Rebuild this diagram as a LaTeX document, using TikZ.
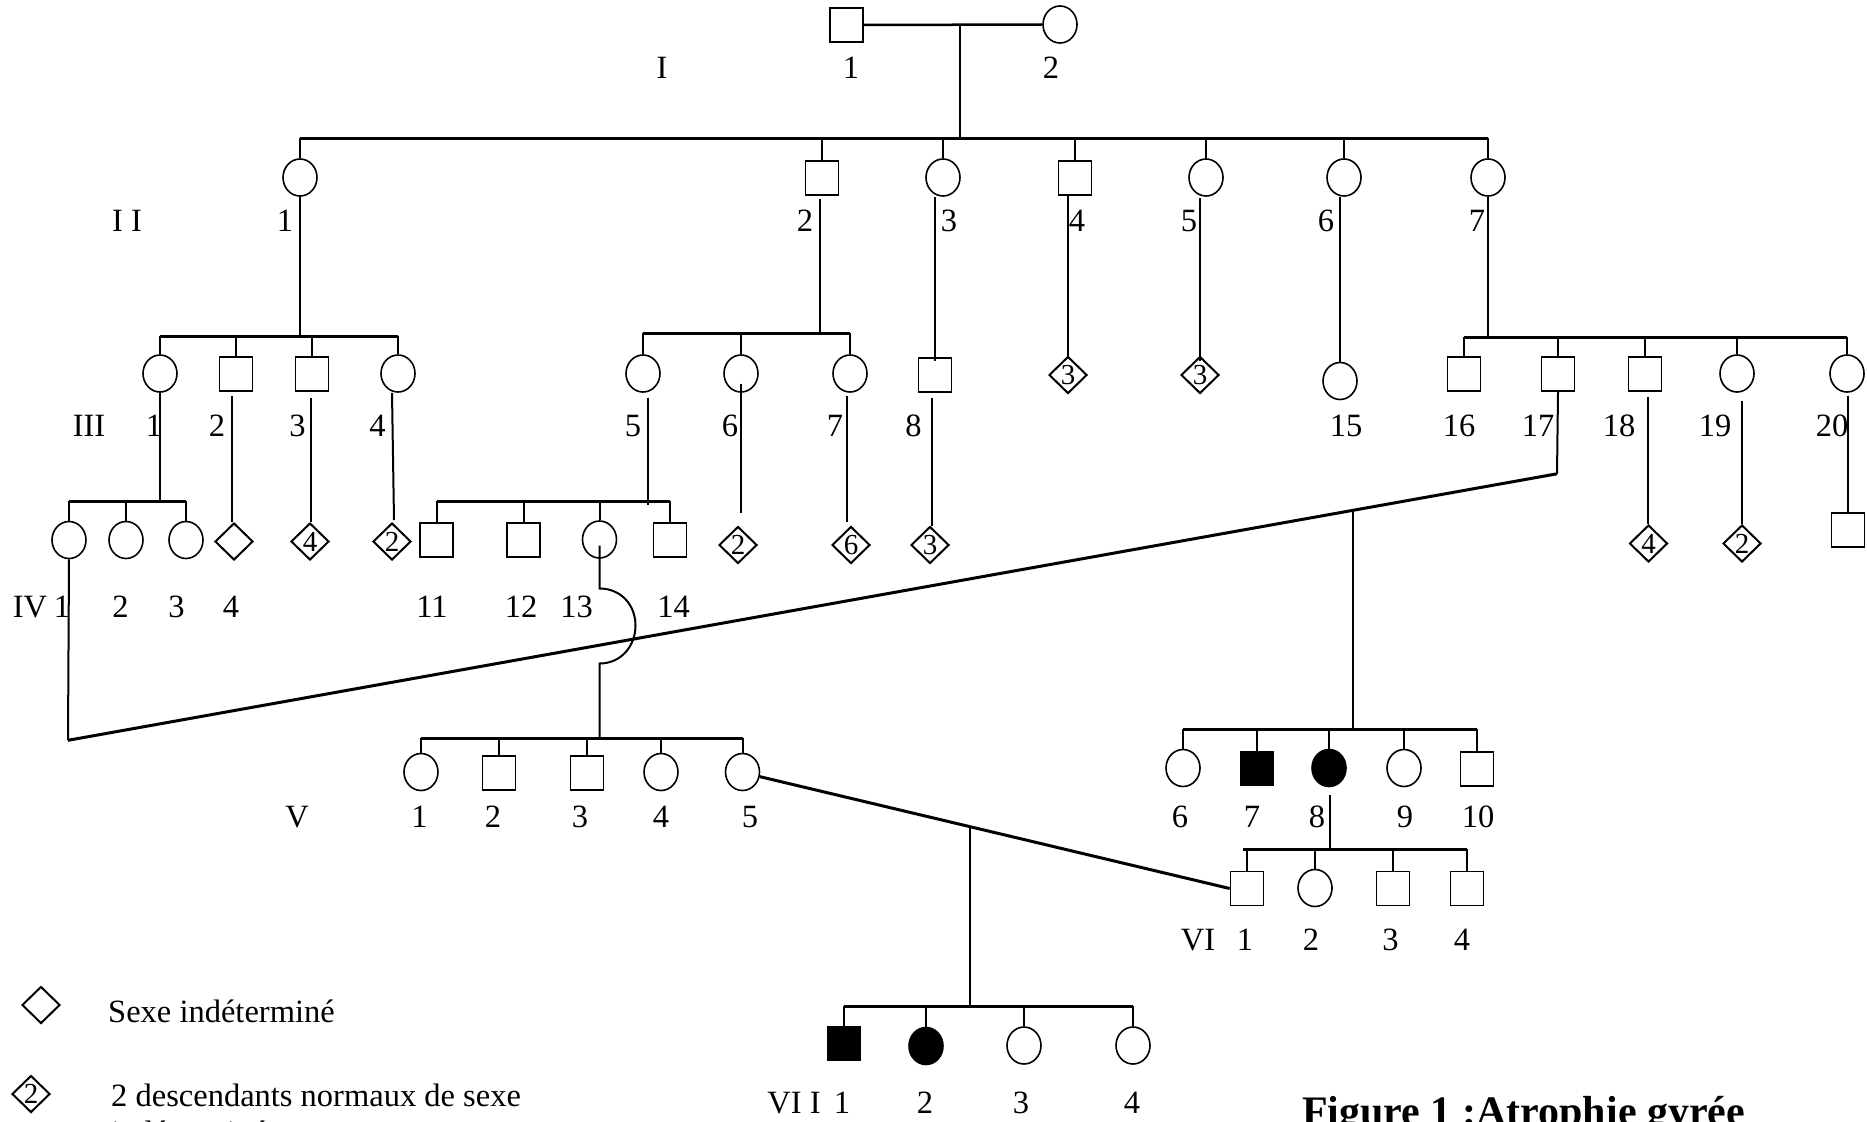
\documentclass[tikz,border=0pt]{standalone}
\usepackage{fontspec}
\setmainfont{Liberation Serif}
\usetikzlibrary{shapes.geometric,calc}
\tikzset{
  sq/.style={draw, line width=1.6pt, rectangle, minimum width=33pt, minimum height=34pt, inner sep=0pt},
  ci/.style={draw, line width=1.6pt, ellipse, minimum width=34pt, minimum height=37pt, inner sep=0pt},
  dm/.style={draw, line width=2pt, diamond, minimum width=38pt, minimum height=37pt, inner sep=0pt, font=\fontsize{29}{29}\selectfont},
  aff/.style={fill=black},
  vl/.style={line width=2pt},
  sl/.style={line width=3pt},
  lbl/.style={anchor=base, inner sep=0pt, font=\fontsize{32.5}{37}\selectfont},
  txt/.style={anchor=base west, inner sep=0pt, font=\fontsize{32.5}{37}\selectfont},
}
\begin{document}
\begin{tikzpicture}[x=1pt,y=-1pt]
\useasboundingbox (0,0) rectangle (1867,1121);
\fill[white] (0,0) rectangle (1867,1121);
\clip (0,0) rectangle (1867,1121);

% ---------- Generation I
\node[sq] (I1) at (846.5,25) {};
\node[ci] (I2) at (1060,24.5) {};
% ---------- Generation II
\node[ci] (II1) at (300,177.5) {};
\node[sq] (II2) at (822,178) {};
\node[ci] (II3) at (943,177.5) {};
\node[sq] (II4) at (1075,178) {};
\node[ci] (II5) at (1206,177.5) {};
\node[ci] (II6) at (1344,177.5) {};
\node[ci] (II7) at (1488,177.5) {};
% ---------- Generation III
\node[ci] (III1) at (160,373.5) {};
\node[sq] (III2) at (236,374) {};
\node[sq] (III3) at (312,374) {};
\node[ci] (III4) at (398,373.5) {};
\node[ci] (III5) at (643,373.5) {};
\node[ci] (III6) at (741,373.5) {};
\node[ci] (III7) at (850,373.5) {};
\node[sq] (III8) at (935,375) {};
\node[dm] (D3a) at (1068,375) {3};
\node[dm] (D3b) at (1200,375) {3};
\node[ci] (III15) at (1340,381) {};
\node[sq] (III16) at (1464,374) {};
\node[sq] (III17) at (1558,374) {};
\node[sq] (III18) at (1645,374) {};
\node[ci] (III19) at (1737,373.5) {};
\node[ci] (III20) at (1847,373.5) {};
% ---------- Generation IV
\node[ci] (IV1) at (69,540) {};
\node[ci] (IV2) at (126,540) {};
\node[ci] (IV3) at (186,540) {};
\node[dm] (IV4) at (234,541.5) {};
\node[dm] (D4a) at (310,541.5) {4};
\node[dm] (D2a) at (392,541.5) {2};
\node[sq] (IV11) at (436.5,540) {};
\node[sq] (IV12) at (523.5,540) {};
\node[ci] (IV13) at (599.5,539.5) {};
\node[sq] (IV14) at (670,540) {};
\node[dm] (D2b) at (738,545) {2};
\node[dm] (D6) at (851,545) {6};
\node[dm] (D3c) at (930,545) {3};
\node[dm] (D4b) at (1648.5,543.5) {4};
\node[dm] (D2c) at (1742,543.5) {2};
\node[sq] (IV20) at (1848,530) {};
% ---------- Generation V
\node[ci] (V1) at (421,772) {};
\node[sq] (V2) at (499,773) {};
\node[sq] (V3) at (587,773) {};
\node[ci] (V4) at (661,772) {};
\node[ci] (V5) at (742.5,772) {};
\node[ci] (V6) at (1183,768) {};
\node[sq,aff] (V7) at (1257,768.5) {};
\node[ci,aff] (V8) at (1329,768) {};
\node[ci] (V9) at (1404,768) {};
\node[sq] (V10) at (1477,769) {};
% ---------- Generation VI
\node[sq] (VI1) at (1247,888.5) {};
\node[ci] (VI2) at (1315,888) {};
\node[sq] (VI3) at (1393,888.5) {};
\node[sq] (VI4) at (1467,888.5) {};
% ---------- Generation VII
\node[sq,aff] (VII1) at (844,1043.5) {};
\node[ci,aff] (VII2) at (926,1046) {};
\node[ci] (VII3) at (1024,1045.5) {};
\node[ci] (VII4) at (1133,1045.5) {};
% ---------- Legend
\node[dm] (L1) at (41,1005) {};
\node[dm] (L2) at (31,1094) {2};
\node[txt] (T1) at (108,1022) {Sexe indéterminé};
\node[txt] (T2) at (111,1106) {2 descendants normaux de sexe};
\node[txt] (T3) at (111,1143) {indéterminé};
\node[anchor=base west, inner sep=0pt, font=\bfseries\fontsize{42}{46}\selectfont] (cap) at (1302,1125) {Figure 1 :Atrophie gyrée};

% ---------- sibship levels
\coordinate (sII) at (0,138);
\coordinate (sIIIa) at (0,336);
\coordinate (sIIIb) at (0,333);
\coordinate (sIIIc) at (0,337);
\coordinate (sIVa) at (0,501);
\coordinate (sIVb) at (0,501);
\coordinate (sVa) at (0,738);
\coordinate (sVb) at (0,729);
\coordinate (sVI) at (0,849);
\coordinate (sVII) at (0,1006);

% ---------- I
\draw[line width=2.5pt] (I1.east) -- (I2.west);
\coordinate (mI) at ($(I1.east)!0.539!(I2.west)$);
\draw[vl] (mI) -- (mI |- sII);
\draw[sl] (II1.north |- sII) -- (II7.north |- sII);
\foreach \n in {II1,II2,II3,II4,II5,II6,II7} \draw[vl] (\n.north) -- (\n.north |- sII);

% ---------- II descents
\draw[vl] (II1.south) -- (II1.south |- sIIIa);
\draw[sl] (III1.north |- sIIIa) -- (III4.north |- sIIIa);
\foreach \n in {III1,III2,III3,III4} \draw[vl] (\n.north) -- (\n.north |- sIIIa);
\draw[vl] ($(II2.south)+(-2,3)$) -- ($(II2.south |- sIIIb)+(-2,0)$);
\draw[sl] (III5.north |- sIIIb) -- (III7.north |- sIIIb);
\foreach \n in {III5,III6,III7} \draw[vl] (\n.north) -- (\n.north |- sIIIb);
\draw[vl] (III8.north |- II3.south) -- ($(III8.north)+(0,4)$);
\draw[vl] (D3a.north |- II4.south) -- (D3a.north);
\draw[vl] ($(D3b.north |- II5.south)+(0,1)$) -- ($(D3b.north)+(0,5)$);
\draw[vl] (III15.north |- II6.south) -- (III15.north);
\draw[vl] (II7.south) -- (II7.south |- sIIIc);
\draw[sl] (III16.north |- sIIIc) -- (III20.north |- sIIIc);
\foreach \n in {III16,III17,III18,III19,III20} \draw[vl] (\n.north) -- (\n.north |- sIIIc);

% ---------- III descents
\draw[vl] (III1.south) -- (III1.south |- sIVa);
\draw[sl] (IV1.north |- sIVa) -- (IV3.north |- sIVa);
\foreach \n in {IV1,IV2,IV3} \draw[vl] (\n.north) -- (\n.north |- sIVa);
\draw[vl] ($(IV4.north |- III2.south)+(-2,4)$) -- ($(IV4.north)+(-2,0)$);
\draw[vl] ($(D4a.north |- III3.south)+(1,6)$) -- ($(D4a.north)+(1,0)$);
\draw[vl] (D2a.north |- III4.south) -- ($(D2a.north)+(2,-2)$);
\draw[vl] ($(III5.south)+(5,5)$) -- ($(III5.south |- sIVb)+(5,4)$);
\draw[sl] (IV11.north |- sIVb) -- (IV14.north |- sIVb);
\foreach \n in {IV11,IV12,IV13,IV14} \draw[vl] (\n.north) -- (\n.north |- sIVb);
\draw[vl] ($(III6.center)+(0,10)$) -- ($(III6.center |- D2b.north)+(0,-13)$);
\draw[vl] ($(D6.north |- III7.south)+(-4,3)$) -- ($(D6.north)+(-4,-4)$);
\draw[vl] ($(D3c.north |- III8.south)+(2,5)$) -- ($(D3c.north)+(2,0)$);
\draw[vl] ($(D4b.north |- III18.south)+(-1,5)$) -- ($(D4b.north)+(-1,0)$);
\draw[vl] ($(D2c.north |- III19.south)+(0,8)$) -- (D2c.north);
\draw[vl] ($(IV20.north |- III20.south)+(0,3)$) -- (IV20.north);

% ---------- marriage III-17 x IV-1
\coordinate (m17) at ($(III17.south)+(-1,82)$);
\coordinate (mIV1) at ($(IV1.south)+(-1,181)$);
\draw[vl] (III17.south) -- (m17);
\draw[vl] (IV1.south) -- (mIV1);
\draw[sl] (mIV1) -- (m17);
\coordinate (c5b) at ($(mIV1)!0.863!(m17)$);
\draw[vl] (c5b) -- (c5b |- sVb);
\draw[sl] (V6.north |- sVb) -- (V10.north |- sVb);
\foreach \n in {V6,V7,V8,V9,V10} \draw[vl] (\n.north) -- (\n.north |- sVb);

% ---------- IV-13 descent with hop
\coordinate (h1) at ($(IV13.center)+(0,49)$);
\draw[vl] ($(IV13.center)+(0,6)$) -- (h1)
  .. controls ($(h1)+(22,0)$) and ($(h1)+(36,17)$) .. ($(h1)+(36,37)$)
  .. controls ($(h1)+(36,57)$) and ($(h1)+(22,75)$) .. ($(h1)+(0,75)$)
  -- (h1 |- sVa);
\draw[sl] (V1.north |- sVa) -- (V5.north |- sVa);
\foreach \n in {V1,V2,V3,V4,V5} \draw[vl] (\n.north) -- (\n.north |- sVa);

% ---------- marriage V-5 x VI-1
\draw[sl] (V5.-15) -- (VI1.west);
\coordinate (c7) at ($(V5.-15)!0.447!(VI1.west)$);
\draw[vl] (c7) -- (c7 |- sVII);
\draw[sl] (VII1.north |- sVII) -- (VII4.north |- sVII);
\foreach \n in {VII1,VII2,VII3,VII4} \draw[vl] (\n.north) -- (\n.north |- sVII);

% ---------- V-8 descent
\draw[vl] ($(V8.south)+(1,8)$) -- ($(V8.south |- sVI)+(1,0)$);
\draw[sl] ($(VI1.north |- sVI)+(-4,0)$) -- (VI4.north |- sVI);
\foreach \n in {VI1,VI2,VI3,VI4} \draw[vl] (\n.north) -- (\n.north |- sVI);

% ---------- labels
\node[lbl] (gI) at (662,79) {I};
\node[lbl] (lI1) at (851,79) {1};
\node[lbl] (lI2) at (1051,79) {2};
\node[lbl] (gII) at (127,231) {I I};
\foreach \t/\x in {1/285,2/805,3/949,4/1077,5/1189,6/1326,7/1477}
  \node[lbl] (lII\t) at (\x,231) {\t};
\node[lbl] (gIII) at (89,436) {III};
\foreach \t/\x in {1/154,2/217,3/297.5,4/377.5,5/633,6/730,7/835,8/913.5,15/1346,16/1459,17/1538,18/1619,19/1715,20/1832}
  \node[lbl] (lIII\t) at (\x,436) {\t};
\node[lbl] (gIV) at (30,617) {IV};
\foreach \t/\x in {1/62,2/120.5,3/176.5,4/231,11/432,12/521,13/576.6,14/673.5}
  \node[lbl] (lIV\t) at (\x,617) {\t};
\node[lbl] (gV) at (297,827) {V};
\foreach \t/\x in {1/419.5,2/493,3/580,4/661,5/750,6/1180,7/1252,8/1317,9/1405,10/1478}
  \node[lbl] (lV\t) at (\x,827) {\t};
\node[lbl] (gVI) at (1198,950) {VI};
\foreach \t/\x in {1/1245,2/1311,3/1390.5,4/1462}
  \node[lbl] (lVI\t) at (\x,950) {\t};
\node[lbl] (gVII) at (794,1113) {VI I};
\foreach \t/\x in {1/842,2/925,3/1021,4/1132}
  \node[lbl] (lVII\t) at (\x,1113) {\t};
\end{tikzpicture}
\end{document}
